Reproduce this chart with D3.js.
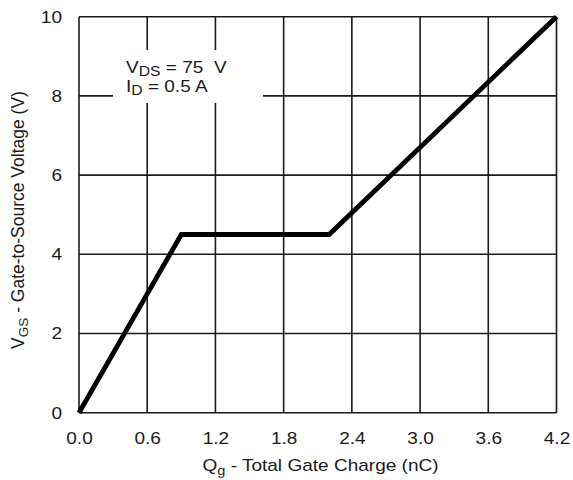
<!DOCTYPE html>
<html>
<head>
<meta charset="utf-8">
<script src="https://cdn.jsdelivr.net/npm/d3@7"></script>
<style>
  html, body { margin: 0; padding: 0; background: #fff; }
  svg { display: block; font-family: "Liberation Sans", Arial, sans-serif; }
</style>
</head>
<body>
<svg id="chart" width="573" height="480"></svg>
<script>
// Gate charge curve: total gate charge (nC) vs gate-to-source voltage (V)
const chargeNC = [0, 0.9, 2.2, 4.2];
const vgsVolts = [0, 4.5, 4.5, 10];
const xTicks = [0, 0.6, 1.2, 1.8, 2.4, 3.0, 3.6, 4.2];
const yTicks = [0, 2, 4, 6, 8, 10];
const conditionLines = [
  { main: "V", sub: "DS", rest: " = 75\u00a0\u00a0V" },
  { main: "I", sub: "D", rest: " = 0.5 A" }
];

const svg = d3.select("#chart");
const margin = { left: 79, right: 16.5, top: 16.7, bottom: 67.3 };
const W = 573, H = 480;
const x = d3.scaleLinear().domain([0, 4.2]).range([margin.left, W - margin.right]);
const y = d3.scaleLinear().domain([0, 10]).range([H - margin.bottom, margin.top]);
const ink = "#1a1a1a";
const wide = 1.12;        // slightly wide lettering
const fontTick = 17;

// grid
const grid = svg.append("g").attr("stroke", ink).attr("stroke-width", 1.6);
grid.selectAll("line.v").data(xTicks).join("line").attr("class", "v")
  .attr("x1", d => x(d)).attr("x2", d => x(d))
  .attr("y1", y(0)).attr("y2", y(10));
grid.selectAll("line.h").data(yTicks).join("line").attr("class", "h")
  .attr("x1", x(0)).attr("x2", x(4.2))
  .attr("y1", d => y(d)).attr("y2", d => y(d));

// tick labels through d3 axes, with axis lines hidden
const xAxis = svg.append("g").attr("transform", `translate(0,${y(0)})`)
  .call(d3.axisBottom(x).tickValues(xTicks).tickFormat(d3.format(".1f")).tickSize(0).tickPadding(19));
const yAxis = svg.append("g").attr("transform", `translate(${x(0)},0)`)
  .call(d3.axisLeft(y).tickValues(yTicks).tickFormat(d3.format("d")).tickSize(0).tickPadding(17));
[xAxis, yAxis].forEach(a => {
  a.select(".domain").remove();
  a.selectAll("text").attr("font-size", fontTick).attr("fill", ink)
    .attr("font-family", "Liberation Sans, Arial, sans-serif")
    .attr("transform", `scale(${wide},1)`);
});
yAxis.selectAll("text").attr("x", -17 / wide);

// test-condition annotation on a white panel
const boxX0 = 113, boxX1 = 263, boxY0 = 50, boxY1 = 103;
svg.append("rect").attr("x", boxX0).attr("y", boxY0)
  .attr("width", boxX1 - boxX0).attr("height", boxY1 - boxY0).attr("fill", "#fff");
const note = svg.append("g").attr("fill", ink).attr("font-size", 17);
conditionLines.forEach((l, i) => {
  const t = note.append("text")
    .attr("transform", `translate(126,${73 + i * 19}) scale(${wide},1)`);
  t.append("tspan").text(l.main);
  t.append("tspan").attr("font-size", 14).attr("dy", 2.5).text(l.sub);
  t.append("tspan").attr("dy", -2.5).text(l.rest);
});

// curve
const line = d3.line().x((d, i) => x(chargeNC[i])).y((d, i) => y(vgsVolts[i]));
svg.append("path").datum(chargeNC)
  .attr("d", line).attr("fill", "none")
  .attr("stroke", "#000").attr("stroke-width", 4.8)
  .attr("stroke-linejoin", "miter");

// axis titles
const xt = svg.append("text")
  .attr("transform", `translate(320.5,471) scale(${wide},1)`)
  .attr("text-anchor", "middle").attr("font-size", 17).attr("fill", ink);
xt.append("tspan").text("Q");
xt.append("tspan").attr("font-size", 13).attr("dy", 4).text("g");
xt.append("tspan").attr("dy", -4).text(" - Total Gate Charge (nC)");

const yt = svg.append("text")
  .attr("transform", "translate(24,220) rotate(-90)")
  .attr("text-anchor", "middle").attr("font-size", 17.5).attr("fill", ink);
yt.append("tspan").text("V");
yt.append("tspan").attr("font-size", 13.5).attr("dy", 4).text("GS");
yt.append("tspan").attr("dy", -4).text(" - Gate-to-Source Voltage (V)");
</script>
</body>
</html>
